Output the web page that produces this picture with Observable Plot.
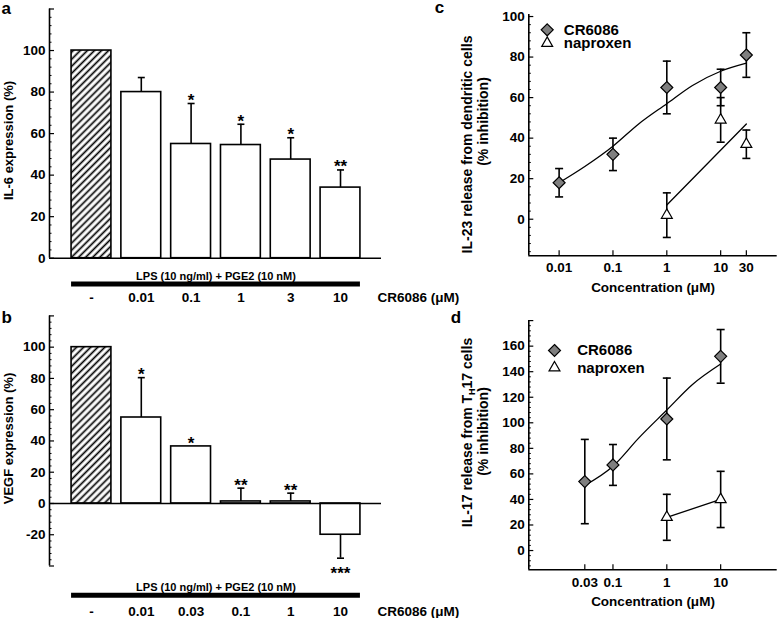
<!DOCTYPE html>
<html><head><meta charset="utf-8">
<script src="https://cdn.jsdelivr.net/npm/d3@7"></script>
<script src="https://cdn.jsdelivr.net/npm/@observablehq/plot@0.6"></script>
<style>
html,body{margin:0;padding:0;background:#fff;}
#root{position:relative;width:778px;height:618px;overflow:hidden;font-family:"Liberation Sans",Arial,sans-serif;}
</style></head><body>
<svg width="0" height="0" style="position:absolute"><defs>
<pattern id="hatch" patternUnits="userSpaceOnUse" width="5" height="5" patternTransform="rotate(45)">
<rect width="5" height="5" fill="white"/><line x1="2.5" y1="0" x2="2.5" y2="5" stroke="black" stroke-width="1.7"/>
</pattern></defs></svg>
<div id="root"></div>
<script>
// ---------- data ----------
const catsA = ["-", "0.01", "0.1", "1", "3", "10"];
const valsA = [100, 80, 55, 54.5, 47.5, 34];
const errA = [0, 7, 19.5, 10, 10.5, 8.5];
const starsA = ["", "", "*", "*", "*", "**"];

const catsB = ["-", "0.01", "0.03", "0.1", "1", "10"];
const valsB = [100, 55, 36.5, 1.3, 1.3, -20];
const errB = [0, 25.5, 0, 8.5, 5.3, 15];
const starsB = ["", "*", "*", "**", "**", "***"];

const treatLabel = "LPS (10 ng/ml) + PGE2 (10 nM)";
const doseLabel = "CR6086 (μM)";
const yTitleA = "IL-6 expression (%)";
const yTitleB = "VEGF expression (%)";
const panelLetters = ["a", "b", "c", "d"];

// panel c
const crX_C = [0.01, 0.1, 1, 10, 30];
const crY_C = [18, 32, 65, 65, 81];
const crE_C = [7, 8, 13, 9, 11];
const napX_C = [1, 10, 30];
const napY_C = [2, 49, 37];
const napE_C = [11, 11, 7];
const fitCrX_C = [0.01, 0.03, 0.1, 0.3, 1, 3, 10, 30];
const fitCrY_C = [18, 26, 36, 47, 57, 66, 73, 77];
const fitNapX_C = [1, 30];
const fitNapY_C = [7, 47];
const xTicksC = [0.01, 0.1, 1, 10, 30];
const xTickLabelsC = ["0.01", "0.1", "1", "10", "30"];
const yTitleC = ["IL-23 release from dendritic cells", "(% inhibition)"];

// panel d
const crX_D = [0.03, 0.1, 1, 10];
const crY_D = [54, 67, 103, 152];
const crE_D = [33, 16, 32, 21];
const napX_D = [1, 10];
const napY_D = [26, 40];
const napE_D = [18, 22];
const fitCrX_D = [0.03, 0.1, 0.3, 1, 3, 10];
const fitCrY_D = [51, 66, 88, 110, 130, 146];
const fitNapX_D = [1, 10];
const fitNapY_D = [26, 40];
const xTicksD = [0.03, 0.1, 1, 10];
const xTickLabelsD = ["0.03", "0.1", "1", "10"];
const yTitleD = [["IL-17 release from T", "H", "17 cells"], "(% inhibition)"];

const seriesNames = ["CR6086", "naproxen"];
const xTitle = "Concentration (μM)";

// ---------- helpers ----------
const root = document.getElementById("root");
const FONT = '"Liberation Sans", Arial, sans-serif';
const baseStyle = {fontFamily: FONT, fontSize: "13px", fontWeight: "bold", background: "transparent", color: "black", overflow: "visible"};
const cap = hw => ({draw(ctx) { ctx.moveTo(-hw, 0); ctx.lineTo(hw, 0); }});
const SW = 1.6;
const crFill = "#7f7f7f";
const TICKFS = 13.5;
const mid = {textAnchor: "middle", lineAnchor: "middle"};

function place(svg, left, top) {
  svg.style.position = "absolute";
  svg.style.left = left + "px";
  svg.style.top = top + "px";
  svg.style.maxWidth = "none";
  root.appendChild(svg);
}

function barPanel(cfg) {
  const n = cfg.cats.length;
  const rows = cfg.cats.map((c, i) => ({i, c, v: cfg.vals[i], e: cfg.errs[i], s: cfg.stars[i],
    end: cfg.vals[i] + Math.sign(cfg.vals[i]) * cfg.errs[i]}));
  const fw = cfg.width - cfg.ml - cfg.mr;
  const hb = 0.4;
  const eb = rows.filter(d => d.e > 0);
  const starUp = rows.filter(d => d.s && d.v >= 0);
  const starDown = rows.filter(d => d.s && d.v < 0);
  return Plot.plot({
    width: cfg.width, height: cfg.height,
    marginLeft: cfg.ml, marginRight: cfg.mr, marginTop: cfg.mt, marginBottom: cfg.mb,
    style: baseStyle,
    x: {type: "linear", domain: cfg.xDomain, axis: null},
    y: {domain: cfg.yDomain},
    marks: [
      Plot.rect(rows.filter(d => d.c === "-"), {x1: d => d.i - hb, x2: d => d.i + hb, y1: () => 0, y2: "v", fill: "url(#hatch)", stroke: "black", strokeWidth: SW}),
      Plot.rect(rows.filter(d => d.c !== "-"), {x1: d => d.i - hb, x2: d => d.i + hb, y1: () => 0, y2: "v", fill: "white", stroke: "black", strokeWidth: SW}),
      Plot.ruleX(eb, {x: "i", y1: "v", y2: "end", stroke: "black", strokeWidth: SW}),
      Plot.dot(eb, {x: "i", y: "end", symbol: cap(3.5), r: 3, fill: "none", stroke: "black", strokeWidth: SW}),
      Plot.ruleY([0], {stroke: "black", strokeWidth: SW}),
      Plot.ruleX([cfg.xDomain[0]], {stroke: "black", strokeWidth: SW}),
      Plot.ruleY(cfg.yMajor, {insetRight: fw - 5, stroke: "black", strokeWidth: 1.2}),
      Plot.ruleY(cfg.yMinor, {insetRight: fw - 2.5, stroke: "black", strokeWidth: 1}),
      Plot.axisY({ticks: cfg.yLabels, tickSize: 0, tickPadding: 4, tickFormat: d => String(d), label: null, fontSize: TICKFS}),
      Plot.text(starUp, {x: "i", y: d => d.e ? d.end : d.v, text: "s", dy: -3, fontSize: 17, ...mid}),
      Plot.text(starDown, {x: "i", y: d => d.e ? d.end : d.v, text: "s", dy: 15, fontSize: 17, ...mid}),
      Plot.ruleY([cfg.yDomain[0]], {x1: () => -hb, x2: () => n - 1 + hb, dy: cfg.barDy, stroke: "black", strokeWidth: 5}),
      Plot.text([cfg.treat], {x: () => (n - 1) / 2, frameAnchor: "bottom", dy: cfg.lpsDy, fontSize: 11, ...mid}),
      Plot.text(rows, {x: "i", text: "c", frameAnchor: "bottom", dy: cfg.labDy, fontSize: TICKFS, ...mid}),
      Plot.text([cfg.dose], {frameAnchor: "bottom-right", textAnchor: "start", lineAnchor: "middle", dx: -4, dy: cfg.labDy, fontSize: TICKFS}),
      Plot.text([cfg.title], {frameAnchor: "top-left", rotate: -90, dx: cfg.titleDx, dy: cfg.titleDy, fontSize: 13, ...mid}),
      Plot.text([cfg.letter], {frameAnchor: "top-left", textAnchor: "start", lineAnchor: "bottom", dx: cfg.letterPos[0], dy: cfg.letterPos[1], fontSize: 17})
    ]
  });
}

function linePanel(cfg) {
  const fw = cfg.width - cfg.ml - cfg.mr;
  const fh = cfg.height - cfg.mt - cfg.mb;
  const cr = cfg.crX.map((x, i) => ({x, y: cfg.crY[i], e: cfg.crE[i]}));
  const nap = cfg.napX.map((x, i) => ({x, y: cfg.napY[i], e: cfg.napE[i]}));
  const fitCr = cfg.fitCrX.map((x, i) => ({x, y: cfg.fitCrY[i]}));
  const fitNap = cfg.fitNapX.map((x, i) => ({x, y: cfg.fitNapY[i]}));
  const ticks = cfg.xTicks.map((x, i) => ({x, label: cfg.xTickLabels[i]}));
  const all = cr.concat(nap);
  const titleText = t => Array.isArray(t) ? t.join("") : t;
  return Plot.plot({
    width: cfg.width, height: cfg.height,
    marginLeft: cfg.ml, marginRight: cfg.mr, marginTop: cfg.mt, marginBottom: cfg.mb,
    style: baseStyle,
    x: {type: "log", domain: cfg.xDomain, axis: null},
    y: {domain: cfg.yDomain},
    marks: [
      Plot.ruleX([cfg.xDomain[0]], {stroke: "black", strokeWidth: SW}),
      Plot.ruleY([cfg.yDomain[0]], {stroke: "black", strokeWidth: SW}),
      Plot.ruleY(cfg.yMajor, {insetRight: fw - 5, stroke: "black", strokeWidth: 1.2}),
      Plot.ruleY(cfg.yMinor, {insetRight: fw - 2.5, stroke: "black", strokeWidth: 1}),
      Plot.ruleX(ticks, {x: "x", insetTop: fh - 5, stroke: "black", strokeWidth: 1.2}),
      Plot.axisY({ticks: cfg.yLabels, tickSize: 0, tickPadding: 4, tickFormat: d => String(d), label: null, fontSize: TICKFS}),
      Plot.text(ticks, {x: "x", text: "label", frameAnchor: "bottom", dy: cfg.xLabDy, fontSize: TICKFS, ...mid}),
      Plot.text([xTitle], {frameAnchor: "bottom", dy: cfg.xTitleDy, fontSize: 13.5, ...mid}),
      Plot.text([titleText(cfg.title[0])], {frameAnchor: "top-left", rotate: -90, dx: cfg.t1[0], dy: cfg.t1[1], fontSize: 14, ...mid}),
      Plot.text([cfg.title[1]], {frameAnchor: "top-left", rotate: -90, dx: cfg.t2[0], dy: cfg.t2[1], fontSize: 14, ...mid}),
      Plot.line(fitCr, {x: "x", y: "y", curve: "monotone-x", stroke: "black", strokeWidth: 1.3}),
      Plot.line(fitNap, {x: "x", y: "y", curve: "monotone-x", stroke: "black", strokeWidth: 1.3}),
      Plot.ruleX(all, {x: "x", y1: d => d.y - d.e, y2: d => d.y + d.e, stroke: "black", strokeWidth: SW}),
      Plot.dot(all, {x: "x", y: d => d.y - d.e, symbol: cap(4), r: 3, fill: "none", stroke: "black", strokeWidth: SW}),
      Plot.dot(all, {x: "x", y: d => d.y + d.e, symbol: cap(4), r: 3, fill: "none", stroke: "black", strokeWidth: SW}),
      Plot.dot(cr, {x: "x", y: "y", symbol: "diamond2", r: 5.4, fill: crFill, stroke: "black", strokeWidth: 1.2}),
      Plot.dot(nap, {x: "x", y: "y", symbol: "triangle2", r: 5.2, fill: "white", stroke: "black", strokeWidth: 1.2}),
      // legend
      Plot.dot([seriesNames[0]], {frameAnchor: "top-left", dx: cfg.leg[0], dy: cfg.leg[1], symbol: "diamond2", r: 5.4, fill: crFill, stroke: "black", strokeWidth: 1.2}),
      Plot.dot([seriesNames[1]], {frameAnchor: "top-left", dx: cfg.leg[0], dy: cfg.leg[2], symbol: "triangle2", r: 5.2, fill: "white", stroke: "black", strokeWidth: 1.2}),
      Plot.text([seriesNames[0]], {frameAnchor: "top-left", textAnchor: "start", lineAnchor: "middle", dx: cfg.leg[3], dy: cfg.leg[1], fontSize: 15}),
      Plot.text([seriesNames[1]], {frameAnchor: "top-left", textAnchor: "start", lineAnchor: "middle", dx: cfg.leg[3], dy: cfg.leg[2], fontSize: 15}),
      Plot.text([cfg.letter], {frameAnchor: "top-left", textAnchor: "start", lineAnchor: "bottom", dx: cfg.letterPos[0], dy: cfg.letterPos[1], fontSize: 17})
    ]
  });
}

const range = (a, b, s) => d3.range(a, b + 1e-9, s);
const notMajor = v => v % 20 !== 0;

// ---------- panel a ----------
const svgA = barPanel({
  cats: catsA, vals: valsA, errs: errA, stars: starsA, treat: treatLabel, dose: doseLabel, title: yTitleA,
  letter: panelLetters[0], letterPos: [-48, 5],
  width: 460, height: 305, ml: 49, mr: 79, mt: 8.5, mb: 47.3,
  xDomain: [-0.843, 5.823], yDomain: [0, 120],
  yMajor: range(0, 120, 20), yMinor: range(0, 120, 4).filter(notMajor), yLabels: range(0, 100, 20),
  barDy: 25.8, lpsDy: 18.3, labDy: 39.5, titleDx: -41, titleDy: 131.5
});
place(svgA, 0, 0);

// ---------- panel b ----------
const svgB = barPanel({
  cats: catsB, vals: valsB, errs: errB, stars: starsB, treat: treatLabel, dose: doseLabel, title: yTitleB,
  letter: panelLetters[1], letterPos: [-48, 7],
  width: 460, height: 318, ml: 49, mr: 79, mt: 15.4, mb: 52.5,
  xDomain: [-0.843, 5.823], yDomain: [-40, 120],
  yMajor: range(-40, 120, 20), yMinor: range(-40, 120, 4).filter(notMajor), yLabels: range(-20, 100, 20),
  barDy: 29.2, lpsDy: 21.2, labDy: 45.5, titleDx: -41, titleDy: 122.6
});
place(svgB, 0, 300);

// ---------- panel c ----------
const svgC = linePanel({
  crX: crX_C, crY: crY_C, crE: crE_C, napX: napX_C, napY: napY_C, napE: napE_C,
  fitCrX: fitCrX_C, fitCrY: fitCrY_C, fitNapX: fitNapX_C, fitNapY: fitNapY_C,
  title: yTitleC, xTicks: xTicksC, xTickLabels: xTickLabelsC,
  letter: panelLetters[2], letterPos: [-94, -2],
  width: 378, height: 300, ml: 128.3, mr: 1.3, mt: 14, mb: 44.8,
  xDomain: [Math.pow(10, -2.563), Math.pow(10, 2.05)], yDomain: [-18, 101],
  yMajor: range(0, 100, 20), yMinor: range(-16, 100, 4).filter(notMajor), yLabels: range(0, 100, 20),
  xLabDy: 12, xTitleDy: 32.3, t1: [-61.6, 130], t2: [-45.3, 107],
  leg: [18.4, 15.3, 28.7, 35]
});
place(svgC, 400, 0);

// ---------- panel d ----------
const svgD = linePanel({
  crX: crX_D, crY: crY_D, crE: crE_D, napX: napX_D, napY: napY_D, napE: napE_D,
  fitCrX: fitCrX_D, fitCrY: fitCrY_D, fitNapX: fitNapX_D, fitNapY: fitNapY_D,
  title: yTitleD, xTicks: xTicksD, xTickLabels: xTickLabelsD,
  letter: panelLetters[3], letterPos: [-78, 2],
  width: 378, height: 318, ml: 128.3, mr: 1.3, mt: 20.1, mb: 48.8,
  xDomain: [Math.pow(10, -2.563), Math.pow(10, 2.05)], yDomain: [-15, 180],
  yMajor: range(0, 180, 20), yMinor: range(-12, 180, 4).filter(notMajor), yLabels: range(0, 160, 20),
  xLabDy: 12.5, xTitleDy: 31.8, t1: [-61.6, 111.9], t2: [-45.3, 110.9],
  leg: [25.7, 29.9, 47.2, 48.4]
});
place(svgD, 400, 300);

// subscript "H" in T_H17
(function () {
  const full = yTitleD[0].join("");
  const ns = "http://www.w3.org/2000/svg";
  svgD.querySelectorAll("text").forEach(t => {
    if (t.textContent === full) {
      t.textContent = "";
      const a = document.createElementNS(ns, "tspan"); a.textContent = yTitleD[0][0];
      const b = document.createElementNS(ns, "tspan"); b.textContent = yTitleD[0][1];
      b.setAttribute("dy", "3"); b.setAttribute("font-size", "9");
      const c = document.createElementNS(ns, "tspan"); c.textContent = yTitleD[0][2];
      c.setAttribute("dy", "-3");
      t.append(a, b, c);
    }
  });
})();
</script>
</body></html>
